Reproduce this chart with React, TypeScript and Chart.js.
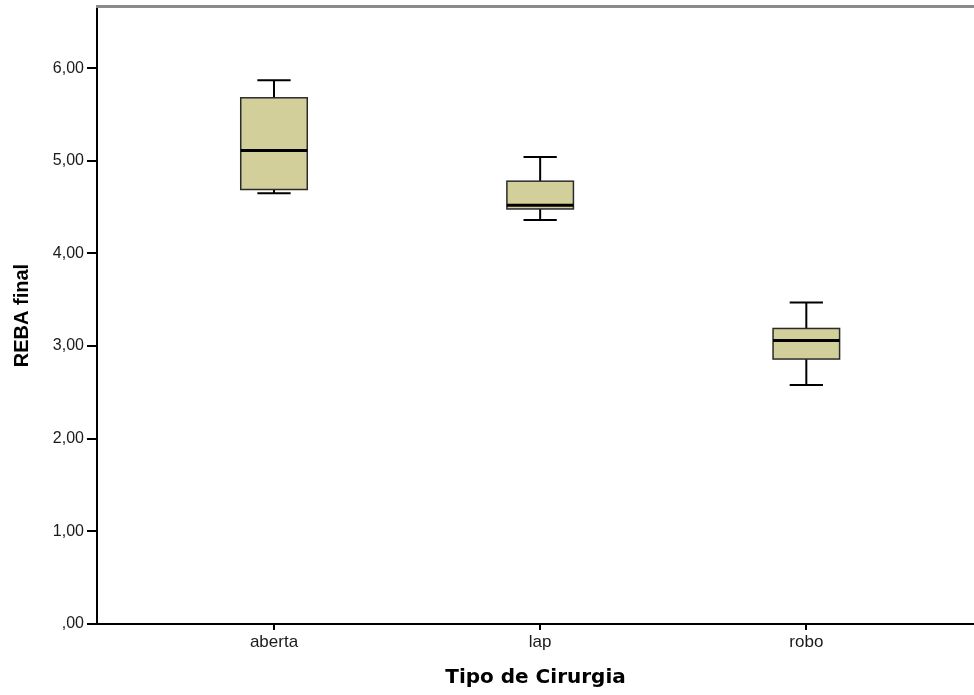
import React, { useEffect, useRef } from 'react';
import { Chart, registerables } from 'chart.js';

Chart.register(...registerables);

// ---- Data ----
const categories = ['aberta', 'lap', 'robo'];
const whiskerLow = [4.65, 4.36, 2.58];
const quartile1 = [4.69, 4.48, 2.86];
const medians = [5.11, 4.52, 3.06];
const quartile3 = [5.68, 4.78, 3.19];
const whiskerHigh = [5.87, 5.04, 3.47];
const yTickValues = [0, 1, 2, 3, 4, 5, 6];
const yTickLabels = [',00', '1,00', '2,00', '3,00', '4,00', '5,00', '6,00'];
const xTitle = 'Tipo de Cirurgia';
const yTitle = 'REBA final';

// ---- Styles ----
const BOX_WIDTH = 0.25; // in x-axis units
const CAP_WIDTH = 0.125;
const BOX_FILL = '#d3cf9a';
const BOX_STROKE = '#2b2b2b';
const TICK_FONT = "'Liberation Sans', Arial, sans-serif";

const boxPlotPlugin = {
  id: 'boxPlotPlugin',
  afterDatasetsDraw(chart: any) {
    const { ctx } = chart;
    const xs = chart.scales.x;
    const ys = chart.scales.y;
    ctx.save();
    categories.forEach((_, i) => {
      const xv = i + 1;
      const cx = xs.getPixelForValue(xv);
      const halfBox = Math.abs(xs.getPixelForValue(xv + BOX_WIDTH / 2) - cx);
      const halfCap = Math.abs(xs.getPixelForValue(xv + CAP_WIDTH / 2) - cx);
      const pLow = ys.getPixelForValue(whiskerLow[i]);
      const pQ1 = ys.getPixelForValue(quartile1[i]);
      const pMed = ys.getPixelForValue(medians[i]);
      const pQ3 = ys.getPixelForValue(quartile3[i]);
      const pHigh = ys.getPixelForValue(whiskerHigh[i]);

      // whiskers
      ctx.strokeStyle = '#000';
      ctx.lineWidth = 2;
      ctx.beginPath();
      ctx.moveTo(cx, pHigh);
      ctx.lineTo(cx, pQ3);
      ctx.moveTo(cx, pQ1);
      ctx.lineTo(cx, pLow);
      ctx.moveTo(cx - halfCap, pHigh);
      ctx.lineTo(cx + halfCap, pHigh);
      ctx.moveTo(cx - halfCap, pLow);
      ctx.lineTo(cx + halfCap, pLow);
      ctx.stroke();

      // box
      ctx.fillStyle = BOX_FILL;
      ctx.fillRect(cx - halfBox, pQ3, halfBox * 2, pQ1 - pQ3);
      ctx.strokeStyle = BOX_STROKE;
      ctx.lineWidth = 1.5;
      ctx.strokeRect(cx - halfBox, pQ3, halfBox * 2, pQ1 - pQ3);

      // median
      ctx.strokeStyle = '#000';
      ctx.lineWidth = 3;
      ctx.beginPath();
      ctx.moveTo(cx - halfBox, pMed);
      ctx.lineTo(cx + halfBox, pMed);
      ctx.stroke();
    });
    ctx.restore();
  },
  afterDraw(chart: any) {
    const { ctx, chartArea } = chart;
    ctx.save();
    ctx.strokeStyle = '#8a8a8a';
    ctx.lineWidth = 3;
    ctx.beginPath();
    ctx.moveTo(chartArea.left - 1, chartArea.top - 0.5);
    ctx.lineTo(chartArea.right, chartArea.top - 0.5);
    ctx.stroke();
    ctx.restore();
  },
};

export default function App() {
  const canvasRef = useRef<HTMLCanvasElement | null>(null);

  useEffect(() => {
    const canvas = canvasRef.current;
    if (!canvas) return;
    const chart = new Chart(canvas, {
      type: 'scatter',
      data: {
        datasets: [
          {
            label: 'median',
            data: categories.map((_, i) => ({ x: i + 1, y: medians[i] })),
            pointRadius: 0,
            pointHoverRadius: 0,
            showLine: false,
          },
        ],
      },
      plugins: [boxPlotPlugin],
      options: {
        responsive: false,
        animation: false,
        devicePixelRatio: 1,
        layout: { padding: { top: 7, right: 0, bottom: 0, left: 0 } },
        plugins: {
          legend: { display: false },
          tooltip: { enabled: false },
        },
        scales: {
          x: {
            type: 'linear',
            min: 0.335,
            max: 3.63,
            afterBuildTicks: (scale: any) => {
              scale.ticks = categories.map((_, i) => ({ value: i + 1 }));
            },
            afterFit: (scale: any) => {
              scale.height = 71;
              scale.paddingLeft = 0;
              scale.paddingRight = 0;
            },
            ticks: {
              callback: (v: any) => categories[Number(v) - 1] ?? '',
              font: { family: TICK_FONT, size: 17 },
              color: '#1a1a1a',
              padding: 2,
              maxRotation: 0,
              autoSkip: false,
            },
            grid: {
              display: true,
              drawOnChartArea: false,
              drawTicks: true,
              tickLength: 6,
              color: '#000',
              lineWidth: 2,
            },
            border: { display: true, color: '#000', width: 2 },
            title: {
              display: true,
              text: xTitle,
              color: '#000',
              font: { family: "'DejaVu Sans', sans-serif", size: 20, weight: 'bold' },
              padding: { top: 0, bottom: 5 },
            },
          },
          y: {
            type: 'linear',
            min: 0,
            max: 6.66,
            afterBuildTicks: (scale: any) => {
              scale.ticks = yTickValues.map((v) => ({ value: v }));
            },
            afterFit: (scale: any) => {
              scale.width = 97;
              scale.paddingTop = 0;
              scale.paddingBottom = 0;
            },
            ticks: {
              callback: (v: any) => {
                const idx = yTickValues.indexOf(Number(v));
                return idx >= 0 ? yTickLabels[idx] : '';
              },
              font: { family: TICK_FONT, size: 16 },
              color: '#1a1a1a',
              padding: 3,
            },
            grid: {
              display: true,
              drawOnChartArea: false,
              drawTicks: true,
              tickLength: 10,
              color: '#000',
              lineWidth: 2,
            },
            border: { display: true, color: '#000', width: 2 },
            title: {
              display: true,
              text: yTitle,
              color: '#000',
              font: { family: "'Liberation Sans', Arial, sans-serif", size: 20, weight: 'bold' },
              padding: { top: 10, bottom: 0 },
            },
          },
        },
      } as any,
    });
    return () => chart.destroy();
  }, []);

  return (
    <div
      style={{
        position: 'fixed',
        left: 0,
        top: 0,
        width: 974,
        height: 695,
        background: '#fff',
      }}
    >
      <canvas ref={canvasRef} width={974} height={695} style={{ display: 'block' }} />
    </div>
  );
}
